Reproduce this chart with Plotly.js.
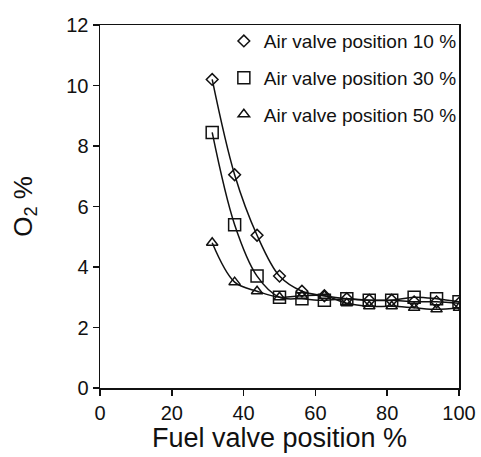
<!DOCTYPE html>
<html>
<head>
<meta charset="utf-8">
<script src="https://cdn.plot.ly/plotly-3.0.1.min.js"></script>
<style>
  html, body { margin: 0; padding: 0; background: #fff; }
  #chart { width: 481px; height: 457px; }
</style>
</head>
<body>
<div id="chart"></div>
<script>
// Fuel valve position (%) where O2 was measured
const fuelValve = [31.25, 37.5, 43.75, 50, 56.25, 62.5, 68.75, 75, 81.25, 87.5, 93.75, 100];

// O2 (%) for each air valve setting
const o2Air10 = [10.2, 7.05, 5.05, 3.7, 3.2, 3.05, 2.95, 2.9, 2.9, 2.85, 2.85, 2.8];
const o2Air30 = [8.45, 5.4, 3.7, 3.0, 2.95, 2.9, 2.95, 2.9, 2.9, 3.0, 2.95, 2.85];
const o2Air50 = [4.8, 3.5, 3.2, 3.0, 3.05, 3.05, 2.8, 2.7, 2.7, 2.65, 2.6, 2.65];

const seriesNames = ['Air valve position 10 %', 'Air valve position 30 %', 'Air valve position 50 %'];
const seriesValues = [o2Air10, o2Air30, o2Air50];
const symbols = ['diamond-open', 'square-open', 'triangle-up-open'];
const symbolSizes = [9, 12, 10];

const FONT = 'Liberation Sans, Arial, sans-serif';
const traces = [];

// smooth connecting curves (not in legend)
seriesValues.forEach((vals, i) => {
  traces.push({
    x: fuelValve, y: vals, type: 'scatter', mode: 'lines',
    line: { color: '#111', width: 1.5, shape: 'spline', smoothing: 1 },
    showlegend: false, hoverinfo: 'skip'
  });
});

// open markers, shown in the legend
seriesValues.forEach((vals, i) => {
  traces.push({
    x: fuelValve, y: vals, type: 'scatter', mode: 'markers',
    name: seriesNames[i], legendgroup: 'g' + i,
    marker: { symbol: symbols[i], size: symbolSizes[i], color: '#111', line: { color: '#111', width: 1.5 } }
  });
});

const layout = {
  width: 481, height: 457,
  margin: { l: 100, r: 22, t: 25, b: 69 },
  paper_bgcolor: '#fff', plot_bgcolor: '#fff',
  font: { family: FONT, color: '#111' },
  showlegend: true,
  legend: {
    x: 0.345, y: 1.008, xanchor: 'left', yanchor: 'top',
    bgcolor: 'rgba(0,0,0,0)', borderwidth: 0,
    traceorder: 'grouped', tracegroupgap: 9,
    font: { size: 19, family: FONT, color: '#111' }
  },
  xaxis: {
    range: [0, 100], tickvals: [0, 20, 40, 60, 80, 100],
    showline: true, mirror: true, linecolor: '#111', linewidth: 1.5,
    ticks: 'outside', ticklen: 6, tickcolor: '#111', tickwidth: 1.5,
    showgrid: false, zeroline: false,
    tickfont: { size: 20, family: FONT },
    title: { text: 'Fuel valve position %', font: { size: 27, family: FONT }, standoff: 4 }
  },
  yaxis: {
    range: [0, 12], tickvals: [0, 2, 4, 6, 8, 10, 12],
    showline: true, mirror: true, linecolor: '#111', linewidth: 1.5,
    ticks: 'outside', ticklen: 6, tickcolor: '#111', tickwidth: 1.5,
    showgrid: false, zeroline: false,
    tickfont: { size: 20, family: FONT },
    title: { text: 'O<sub>2</sub> %', font: { size: 26, family: FONT }, standoff: 26 }
  }
};

Plotly.newPlot('chart', traces, layout, { displayModeBar: false, staticPlot: true });
</script>
</body>
</html>
